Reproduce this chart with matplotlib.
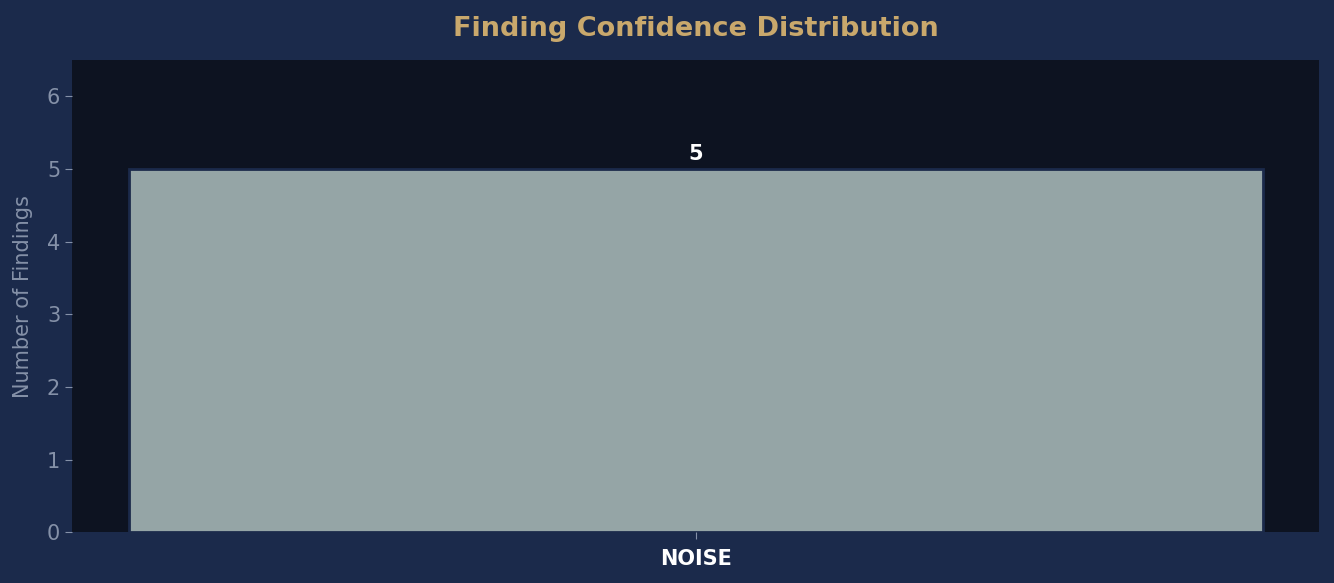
import matplotlib
matplotlib.use('Agg')
import matplotlib.pyplot as plt

# confidence buckets and how many findings fall in each
categories = ['NOISE']
counts = [5]
bar_colors = ['#95a5a6']

BG = '#1b2a4b'
PANEL = '#0d1321'
MUTED = '#8591a8'
GOLD = '#c9a86c'

fig, ax = plt.subplots(figsize=(13.34, 5.83), dpi=100)
fig.patch.set_facecolor(BG)
ax.set_facecolor(PANEL)

bars = ax.bar(categories, counts, color=bar_colors, edgecolor=BG, linewidth=2)

# value labels on top of each bar
for b, v in zip(bars, counts):
    ax.text(b.get_x() + b.get_width() / 2, v + 0.07, str(v), ha='center', va='bottom',
            color='white', fontsize=15, fontweight='bold')

ax.set_ylim(0, max(counts) * 1.3)
ax.set_title('Finding Confidence Distribution', color=GOLD, fontsize=19.5, fontweight='bold', pad=17)
ax.set_ylabel('Number of Findings', color=MUTED, fontsize=15, labelpad=10)

for s in ax.spines.values():
    s.set_visible(False)
ax.tick_params(axis='y', colors=MUTED, labelsize=15, length=5)
ax.tick_params(axis='x', colors=MUTED, labelsize=15, length=5, pad=7)
for lbl in ax.get_xticklabels():
    lbl.set_color('white')
    lbl.set_fontweight('bold')

plt.subplots_adjust(left=0.054, right=0.989, top=0.897, bottom=0.087)
plt.savefig('out.png', facecolor=BG)
